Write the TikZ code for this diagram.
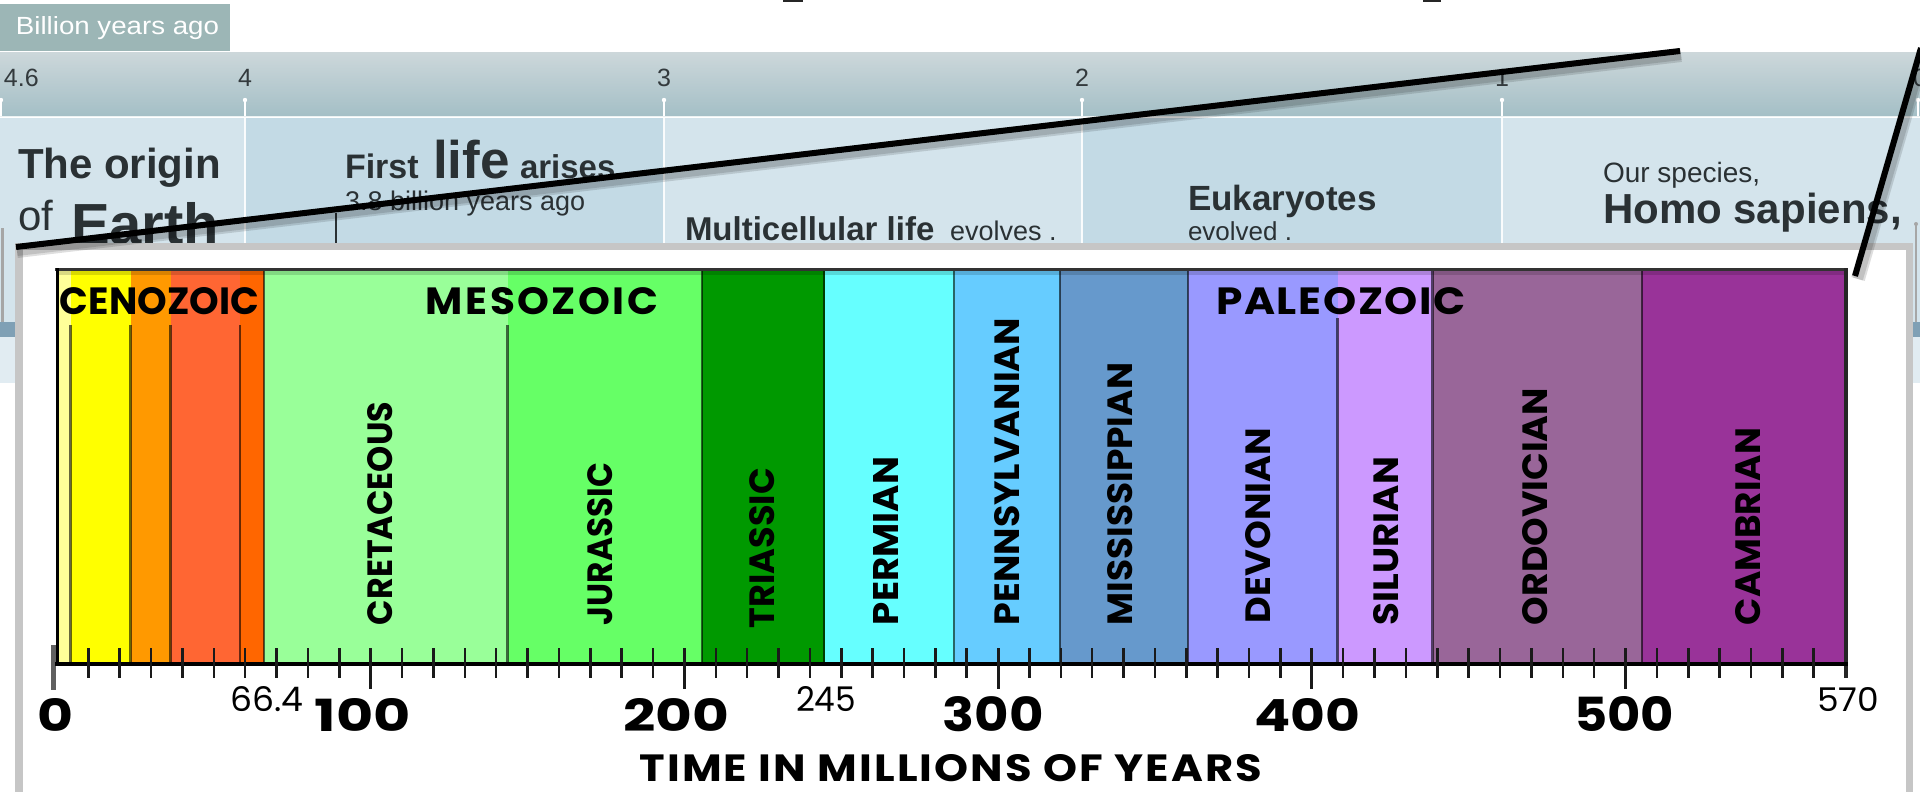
\documentclass[tikz,border=0pt]{standalone}
\usepackage{fontspec}
\usepackage{graphicx}
\setmainfont{Liberation Sans}
\newfontfamily\chartfont{Poppins}
\newcommand{\fitbox}[3]{\resizebox{#1pt}{#2pt}{#3}}
\newcommand{\fsz}[1]{\fontsize{#1}{#1}\selectfont}

\definecolor{boxc}{HTML}{9CB6B6}
\definecolor{bandtop}{HTML}{CCD7DA}
\definecolor{bandbot}{HTML}{A4BFC6}
\definecolor{colA}{HTML}{D4E4EC}
\definecolor{colB}{HTML}{C3DAE5}
\definecolor{paneltext}{HTML}{2A3134}
\definecolor{ticktext}{HTML}{333A3D}
\definecolor{panelband}{HTML}{7FA0B5}
\definecolor{framegray}{HTML}{C6C6C6}
\definecolor{tickc}{HTML}{1A1A1A}
\definecolor{cPaleY}{HTML}{FFFF99}
\definecolor{cYel}{HTML}{FFFF00}
\definecolor{cOrg}{HTML}{FF9900}
\definecolor{cRed}{HTML}{FF6633}
\definecolor{cOrg2}{HTML}{FF6600}
\definecolor{cLGreen}{HTML}{99FF99}
\definecolor{cGreen}{HTML}{66FF66}
\definecolor{cDGreen}{HTML}{009900}
\definecolor{cCyan}{HTML}{66FFFF}
\definecolor{cSky}{HTML}{66CCFF}
\definecolor{cSteel}{HTML}{6699CC}
\definecolor{cLav}{HTML}{9999FF}
\definecolor{cLPurp}{HTML}{CC99FF}
\definecolor{cMauve}{HTML}{996699}
\definecolor{cPurp}{HTML}{993399}

\begin{document}
\begin{tikzpicture}[x=1pt,y=-1pt,
  every node/.style={inner sep=0pt, outer sep=0pt},
  ptext/.style={anchor=base west, text=paneltext},
  rlabel/.style={anchor=base, text=ticktext, font=\fsz{25}},
  periodlbl/.style={rotate=90, anchor=west},
  divider/.style={draw=black, draw opacity=0.6, line width=2.5pt},
  minortick/.style={draw=tickc, line width=2.5pt},
  majortick/.style={draw=tickc, line width=3pt},
  whitetick/.style={draw=white, line width=2pt},
  zoomline/.style={line width=6pt, black},
  zoomshadow/.style={black, opacity=0.13},
]
\useasboundingbox (0,0) rectangle (1920,792);
\fill[white] (0,0) rectangle (1920,792);

% tiny fragments at the top edge
\fill[black!85] (783,0) rectangle (803,2);
\fill[black!85] (1423,0) rectangle (1441,2);

% ---------- background timeline panel ----------
\fill[boxc] (0,4) rectangle (230,51);
\node[anchor=base west, text=white] (bya) at (16,35) {\fitbox{203}{18}{Billion years ago}};

\shade[top color=bandtop, bottom color=bandbot] (0,53) rectangle (1920,116);
\fill[white, opacity=0.8] (0,116) rectangle (1920,118);

\fill[colA] (0,118) rectangle (245,383);
\fill[colB] (245,118) rectangle (664,383);
\fill[colA] (664,118) rectangle (1082,383);
\fill[colB] (1082,118) rectangle (1502,383);
\fill[colA] (1502,118) rectangle (1920,383);
\fill[panelband] (0,322) rectangle (1920,337);
\fill[colA!70!white] (0,337) rectangle (1920,383);

\foreach \xx in {1,245,664,1082,1502,1918}{
  \draw[whitetick] (\xx,100) -- (\xx,116);
  \fill[white] (\xx,100) circle (2.2);
}
\foreach \xx in {245,664,1082,1502}{
  \draw[white, opacity=0.9, line width=1.6pt] (\xx,118) -- (\xx,243);
}

\node[anchor=base west, text=ticktext, font=\fsz{25}] (l46) at (4,86) {4.6};
\node[rlabel] (l4) at (245,86) {4};
\node[rlabel] (l3) at (664,86) {3};
\node[rlabel] (l2) at (1082,86) {2};
\node[rlabel] (l1) at (1502,86) {1};
\node[anchor=base west, text=ticktext, font=\fsz{25}] (l0) at (1913,86) {0};

% panel texts
\node[ptext, font=\bfseries\fsz{42}] (orig) at (18,178) {The origin};
\node[ptext, font=\fsz{42}] (of) at (18,230) {of};
\node[ptext, font=\bfseries\fsz{58}] (earth) at (71,244) {Earth};

\node[ptext, font=\bfseries\fsz{34}] (first) at (345,178) {First};
\node[ptext, font=\bfseries\fsz{53}] (life) at (433,178) {life};
\node[ptext, font=\bfseries\fsz{33}] (arises) at (520,178) {arises};
\node[ptext, font=\fsz{27}] (bya38) at (345,210) {3.8 billion years ago};
\draw[paneltext, line width=1.5pt] (336,213) -- (336,243);

\node[ptext, font=\bfseries\fsz{33}] (multi) at (685,240) {Multicellular life};
\node[ptext, font=\fsz{27}] (evolves) at (950,240) {evolves .};

\node[ptext, font=\bfseries\fsz{35}] (euk) at (1188,210) {Eukaryotes};
\node[ptext, font=\fsz{26}] (evolved) at (1188,240) {evolved .};

\node[ptext, font=\fsz{28}] (ours) at (1603,182) {Our species,};
\node[ptext, font=\bfseries\fsz{42}] (homo) at (1603,223) {Homo sapiens,};

% side marks outside the frame
\draw[gray!70, line width=3pt] (2,228) -- (2,322);
\draw[gray!70, line width=2pt] (1916,224) -- (1916,322);
\fill[gray!70] (1916,224) circle (2);

% ---------- frame ----------
\fill[framegray] (15,243) rectangle (1913,800);
\fill[white] (23,250) rectangle (1906,800);

% ---------- geologic chart ----------
\fill[cPaleY] (57,271) rectangle (71,662);
\fill[cYel] (71,271) rectangle (131,662);
\fill[cOrg] (131,271) rectangle (171,662);
\fill[cRed] (171,271) rectangle (240,662);
\fill[cOrg2] (240,271) rectangle (264,662);
\fill[cLGreen] (264,271) rectangle (508,662);
\fill[cGreen] (508,271) rectangle (702,662);
\fill[cDGreen] (702,271) rectangle (825,662);
\fill[cCyan] (825,271) rectangle (955,662);
\fill[cSky] (955,271) rectangle (1060,662);
\fill[cSteel] (1060,271) rectangle (1188,662);
\fill[cLav] (1188,271) rectangle (1338,662);
\fill[cLPurp] (1338,271) rectangle (1433,662);
\fill[cMauve] (1433,271) rectangle (1642,662);
\fill[cPurp] (1642,271) rectangle (1846,662);
\fill[black, opacity=0.15] (57,271) rectangle (1846,275);

% dividers
\foreach \xx in {70.5,130.5,170.5,240,507.5}{
  \draw[divider] (\xx,325) -- (\xx,662);
}
\draw[divider] (1337.5,318) -- (1337.5,662);
\foreach \xx in {264,702,824,954,1060,1188,1432.5,1642}{
  \draw[divider] (\xx,271) -- (\xx,662);
}

% borders and axis
\draw[black!80, line width=3pt] (55,269.5) -- (1848,269.5);
\draw[gray!75!black, line width=5pt] (53.5,645) -- (53.5,690);
\draw[black, line width=3pt] (57,268) -- (57,664);
\draw[black!85, line width=4pt] (1846,268) -- (1846,678);
\draw[black, line width=4pt] (55,664) -- (1848,664);

% ticks
\foreach \t in {10,20,...,560}{
  \draw[minortick] ({57+3.137*\t},648) -- ({57+3.137*\t},678);
}
\foreach \t in {100,200,...,500}{
  \draw[majortick] ({57+3.137*\t},648) -- ({57+3.137*\t},689);
}

% era labels
\node (ceno) at (159.5,301.5) {\fitbox{199}{27}{\chartfont\bfseries CENOZOIC}};
\node (meso) at (542,301.5) {\fitbox{232}{27}{\chartfont\bfseries\addfontfeatures{LetterSpace=6}MESOZOIC}};
\node (paleo) at (1341,301.5) {\fitbox{250}{27}{\chartfont\bfseries\addfontfeatures{LetterSpace=4}PALEOZOIC}};

% period labels
\node[periodlbl] (cret) at (380,625) {\fitbox{223}{25}{\chartfont\bfseries CRETACEOUS}};
\node[periodlbl] (jur) at (600,625) {\fitbox{162}{25}{\chartfont\bfseries JURASSIC}};
\node[periodlbl] (tri) at (762,628) {\fitbox{160}{25}{\chartfont\bfseries TRIASSIC}};
\node[periodlbl] (perm) at (886,625) {\fitbox{168}{25}{\chartfont\bfseries PERMIAN}};
\node[periodlbl] (penn) at (1007,625) {\fitbox{307}{25}{\chartfont\bfseries PENNSYLVANIAN}};
\node[periodlbl] (miss) at (1120,625) {\fitbox{262}{25}{\chartfont\bfseries MISSISSIPPIAN}};
\node[periodlbl] (dev) at (1258,623) {\fitbox{195}{25}{\chartfont\bfseries DEVONIAN}};
\node[periodlbl] (sil) at (1386,625) {\fitbox{168}{25}{\chartfont\bfseries SILURIAN}};
\node[periodlbl] (ord) at (1535,625) {\fitbox{237}{25}{\chartfont\bfseries ORDOVICIAN}};
\node[periodlbl] (camb) at (1748,625) {\fitbox{197}{25}{\chartfont\bfseries CAMBRIAN}};

% axis labels
\node (a0) at (56,715) {\fitbox{36}{33}{\chartfont\bfseries 0}};
\node (a100) at (363,715) {\fitbox{96}{33}{\chartfont\bfseries 100}};
\node (a200) at (676,715) {\fitbox{106}{33}{\chartfont\bfseries 200}};
\node (a300) at (993,714) {\fitbox{101}{35}{\chartfont\bfseries 300}};
\node (a400) at (1307,715) {\fitbox{106}{33}{\chartfont\bfseries 400}};
\node (a500) at (1624,714) {\fitbox{100}{35}{\chartfont\bfseries 500}};
\node (a664) at (267,699) {\fitbox{73}{25}{\chartfont 66.4}};
\node (a245) at (826,699) {\fitbox{60}{25}{\chartfont 245}};
\node (a570) at (1848,700) {\fitbox{62}{24}{\chartfont 570}};
\node (axtitle) at (951,768.5) {\fitbox{623}{27}{\chartfont\bfseries\addfontfeatures{LetterSpace=5}TIME IN MILLIONS OF YEARS}};

% ---------- zoom lines ----------
\coordinate (za) at (16,247);
\coordinate (zb) at (1680,51);
\coordinate (zc) at (1921,48);
\coordinate (zd) at (1855,276);
\foreach \w in {14,10}{
  \draw[zoomshadow, line width=\w pt] ([shift={(1,4)}]za) -- ([shift={(1,4)}]zb);
  \draw[zoomshadow, line width=\w pt] ([shift={(3,3)}]zc) -- ([shift={(3,3)}]zd);
}
\draw[zoomline] (za) -- (zb);
\draw[zoomline] (zc) -- (zd);
\end{tikzpicture}
\end{document}
